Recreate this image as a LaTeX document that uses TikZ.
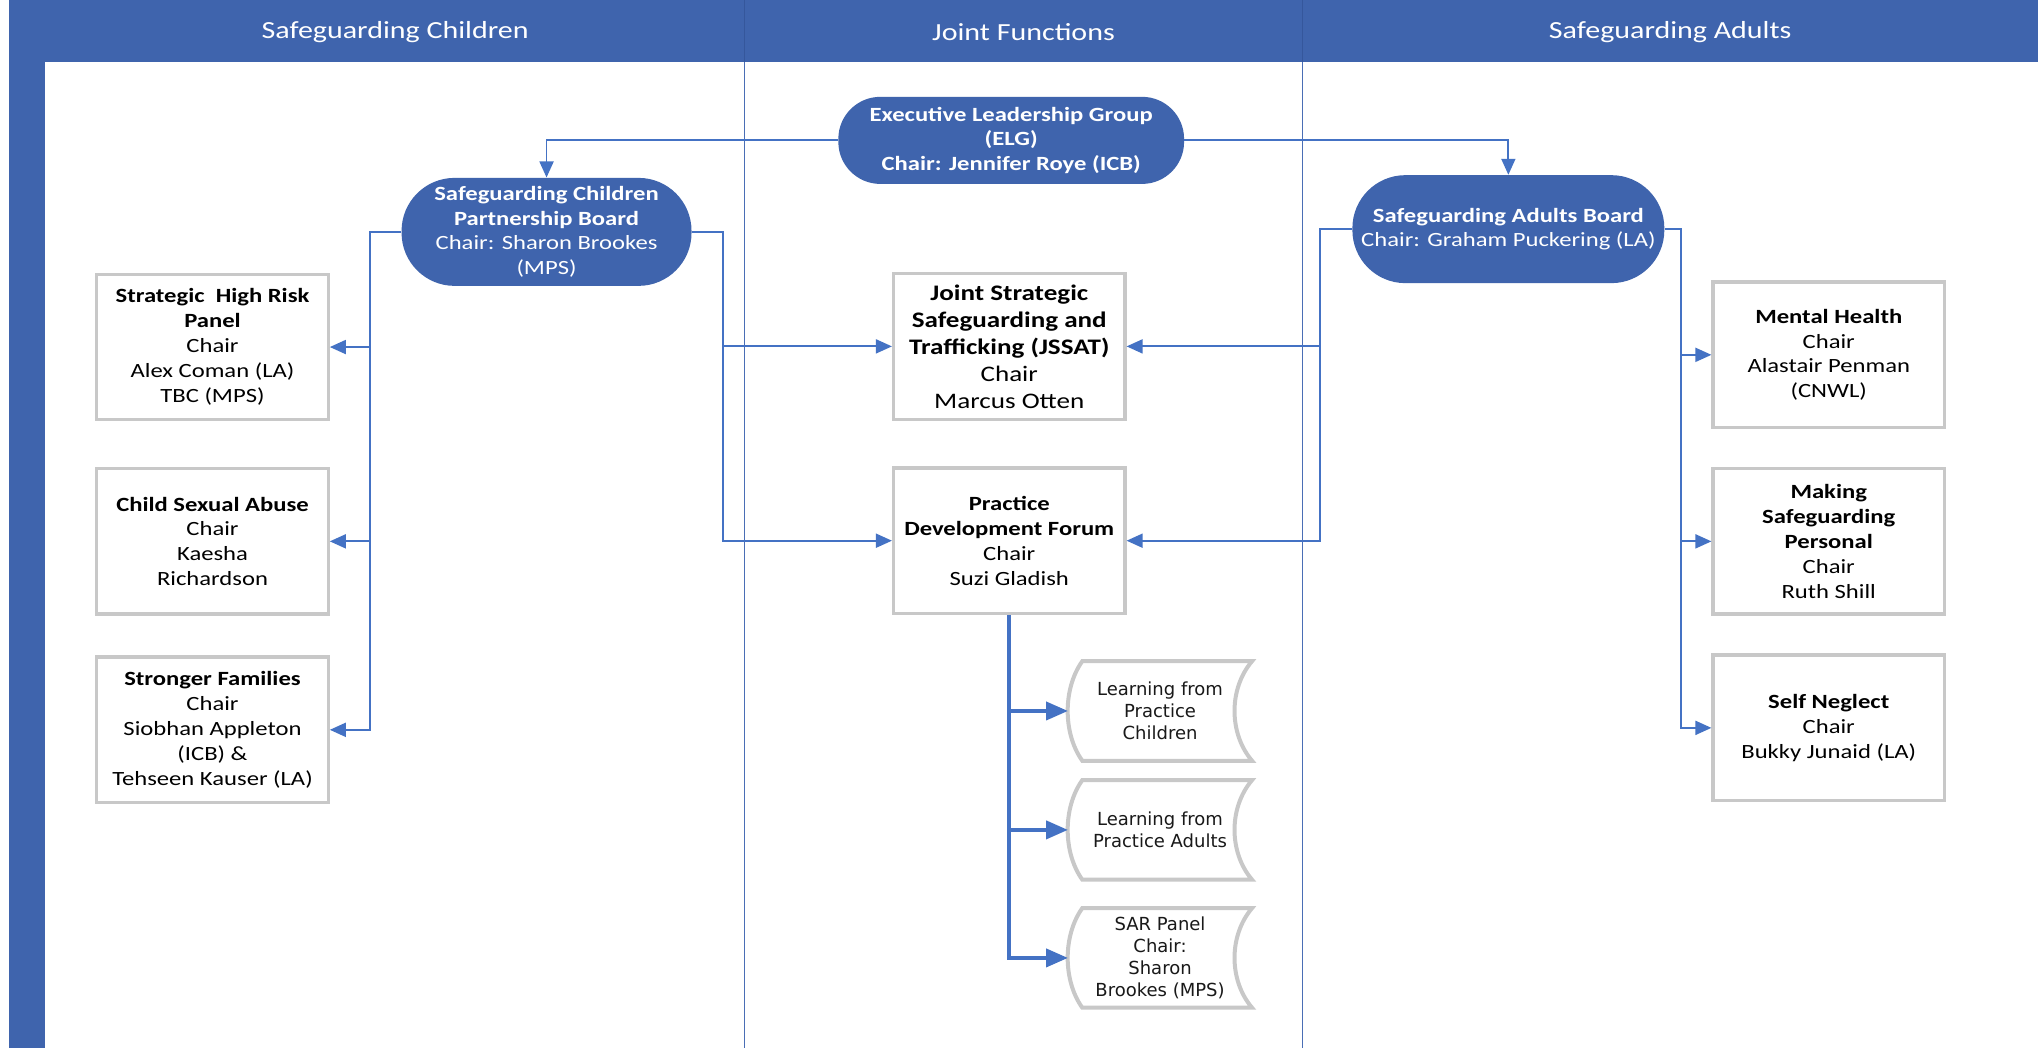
\documentclass[tikz,border=0pt]{standalone}
\usepackage{fontspec}
\setmainfont{Carlito}[FakeStretch=1.22]
\newfontfamily\docfont{DejaVu Sans}
\usetikzlibrary{arrows.meta,calc}
\definecolor{hdrblue}{HTML}{3F64AD}
\definecolor{hdrline}{HTML}{35579C}
\definecolor{lineblue}{HTML}{4472C4}
\definecolor{divblue}{HTML}{4A6EB5}
\definecolor{boxgray}{HTML}{C8C8C8}
\newcommand{\stdata}[1]{%
  \draw[docborder] ($(#1.north west)+(11,0)$) -- (#1.north east)
    .. controls ($(#1.north east)+(-18,21)$) and ($(#1.south east)+(-18,-21)$) .. (#1.south east)
    -- ($(#1.south west)+(11,0)$)
    .. controls ($(#1.south west)+(-4,-21)$) and ($(#1.north west)+(-4,21)$) .. cycle;}
\begin{document}
\begin{tikzpicture}[x=0.65pt,y=-0.65pt,
  hdr/.style={text=white,font=\fontsize{12.3}{14}\selectfont},
  pill/.style={fill=hdrblue,text=white,inner sep=0pt,align=center,
    font=\fontsize{10.1}{12.3}\selectfont},
  gbox/.style={draw=boxgray,line width=1.65pt,fill=white,inner sep=0pt,
    minimum width=115.7pt,minimum height=72.8pt,align=center,
    font=\fontsize{10.1}{12.45}\selectfont},
  docnode/.style={inner sep=0pt,minimum width=91.65pt,minimum height=49.4pt,
    align=center,text=black!90,font=\docfont\fontsize{9}{11}\selectfont},
  docborder/.style={draw=boxgray,line width=2pt,fill=white},
  conn/.style={draw=lineblue,line width=0.9pt,-{Triangle[length=8pt,width=7pt]}},
  thickconn/.style={draw=lineblue,line width=2pt,-{Triangle[length=11pt,width=9pt]}},
  divider/.style={draw=divblue,line width=0.65pt}]
\useasboundingbox (0,0) rectangle (1568,806);
\fill[white] (0,0) rectangle (1568,806);
% swimlane frame
\fill[hdrblue] (7,0) rectangle (35,806);
\fill[hdrblue] (7,0) rectangle (1568,47.5);
\draw[divider] (573,47.5) -- (573,806);
\draw[divider] (1002,47.5) -- (1002,806);
\draw[hdrline,line width=0.6pt] (573,0) -- (573,47.5);
\draw[hdrline,line width=0.6pt] (1002,0) -- (1002,47.5);
\node[hdr] (hc) at (304,24.5) {Safeguarding Children};
\node[hdr] (hj) at (787.5,24.5) {Joint Functions};
\node[hdr] (ha) at (1285,24.5) {Safeguarding Adults};
% boards
\node[pill,rounded corners=21pt,minimum width=172.9pt,minimum height=43.55pt,
  font=\fontsize{10.1}{12.3}\selectfont\bfseries] (elg) at (778,108)
  {Executive Leadership Group\\(ELG)\\Chair: Jennifer Roye (ICB)};
\node[pill,rounded corners=26.5pt,minimum width=145pt,minimum height=54pt] (scpb) at (420.5,178.4)
  {\textbf{Safeguarding Children}\\\textbf{Partnership Board}\\Chair: Sharon Brookes\\(MPS)};
\node[pill,rounded corners=26.5pt,minimum width=156pt,minimum height=54pt] (sab) at (1160.5,176.3)
  {\textbf{Safeguarding Adults Board}\\Chair: Graham Puckering (LA)};
% children groups
\node[gbox] (shrp) at (163.5,267) {\textbf{Strategic\ \ High Risk}\\\textbf{Panel}\\Chair\\Alex Coman (LA)\\TBC (MPS)};
\node[gbox] (csa) at (163.5,416.5) {\textbf{Child Sexual Abuse}\\Chair\\Kaesha\\Richardson};
\node[gbox] (sf) at (163.5,561.5) {\textbf{Stronger Families}\\Chair\\Siobhan Appleton\\(ICB) \&\\Tehseen Kauser (LA)};
% joint groups
\node[gbox,font=\fontsize{11.1}{13.5}\selectfont] (jssat) at (776.5,266.5)
  {\textbf{Joint Strategic}\\\textbf{Safeguarding and}\\\textbf{Trafficking (JSSAT)}\\Chair\\Marcus Otten};
\node[gbox] (pdf) at (776.5,416) {\textbf{Practice}\\\textbf{Development Forum}\\Chair\\Suzi Gladish};
% adults groups
\node[gbox] (mh) at (1407,273) {\textbf{Mental Health}\\Chair\\Alastair Penman\\(CNWL)};
\node[gbox] (msp) at (1407,416.5) {\textbf{Making}\\\textbf{Safeguarding}\\\textbf{Personal}\\Chair\\Ruth Shill};
\node[gbox] (sn) at (1407,560) {\textbf{Self Neglect}\\Chair\\Bukky Junaid (LA)};
% learning groups (stored data shapes)
\node[docnode] (lfc) at (892.5,547) {};
\node[docnode] (lfa) at (892.5,638.5) {};
\node[docnode] (sar) at (892.5,737) {};
\stdata{lfc}
\stdata{lfa}
\stdata{sar}
\node[docnode] (lfct) at (lfc) {Learning from\\Practice\\Children};
\node[docnode] (lfat) at (lfa) {Learning from\\Practice Adults};
\node[docnode] (sart) at (sar) {SAR Panel\\Chair:\\Sharon\\Brookes (MPS)};
% connectors
\draw[conn] (elg.west) -| (scpb.north);
\draw[conn] (elg.east) -| (sab.north);
\draw[conn] (scpb.west) -- ++(-24,0) |- (shrp.east);
\draw[conn] (scpb.west) -- ++(-24,0) |- (csa.east);
\draw[conn] (scpb.west) -- ++(-24,0) |- (sf.east);
\draw[conn] (scpb.east) -- ++(24,0) |- (jssat.west);
\draw[conn] (scpb.east) -- ++(24,0) |- (pdf.west);
\draw[conn] (sab.west) -- ++(-24.5,0) |- (jssat.east);
\draw[conn] (sab.west) -- ++(-24.5,0) |- (pdf.east);
\draw[conn] (sab.east) -- ++(12.5,0) |- (mh.west);
\draw[conn] (sab.east) -- ++(12.5,0) |- (msp.west);
\draw[conn] (sab.east) -- ++(12.5,0) |- (sn.west);
\draw[thickconn] (pdf.south) |- (lfc.west);
\draw[thickconn] (pdf.south) |- (lfa.west);
\draw[thickconn] (pdf.south) |- (sar.west);
\end{tikzpicture}
\end{document}
